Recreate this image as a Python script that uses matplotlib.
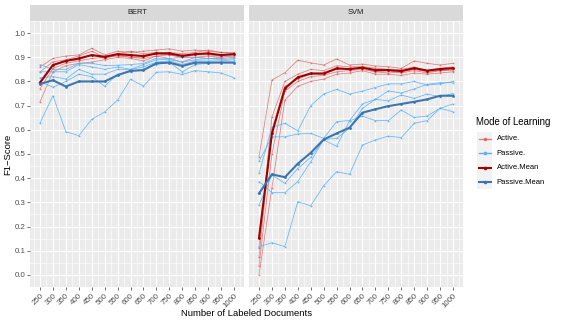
"""
F1-Score vs number of labeled documents, active vs passive learning,
faceted by classifier (BERT / SVM), ggplot-like styling.
"""

import matplotlib
matplotlib.use("Agg")
import matplotlib.pyplot as plt
from matplotlib.lines import Line2D
from matplotlib.patches import Rectangle
from matplotlib.ticker import MultipleLocator

plt.rcParams["font.family"] = ["Liberation Sans", "DejaVu Sans"]

# ---- data ----
DOCS = [250, 300, 350, 400, 450, 500, 550, 600, 650, 700, 750, 800, 850, 900, 950, 1000]
PANELS = ["BERT", "SVM"]
MODES = ["Active.", "Passive.", "Active.Mean", "Passive.Mean"]

BERT_ACTIVE_RUNS = [
    [0.86, 0.895, 0.905, 0.91, 0.937, 0.91, 0.925, 0.92, 0.925, 0.93, 0.935, 0.925, 0.93, 0.925, 0.92, 0.915],
    [0.84, 0.881, 0.89, 0.905, 0.925, 0.90, 0.915, 0.925, 0.915, 0.92, 0.92, 0.915, 0.92, 0.93, 0.92, 0.92],
    [0.79, 0.868, 0.885, 0.89, 0.91, 0.895, 0.91, 0.90, 0.90, 0.915, 0.91, 0.90, 0.91, 0.91, 0.905, 0.915],
    [0.77, 0.854, 0.875, 0.885, 0.895, 0.90, 0.905, 0.90, 0.895, 0.905, 0.91, 0.90, 0.90, 0.905, 0.90, 0.905],
    [0.716, 0.84, 0.865, 0.875, 0.88, 0.89, 0.90, 0.895, 0.885, 0.905, 0.895, 0.88, 0.90, 0.895, 0.895, 0.90],
]
BERT_PASSIVE_RUNS = [
    [0.87, 0.85, 0.85, 0.875, 0.875, 0.866, 0.867, 0.87, 0.874, 0.897, 0.895, 0.90, 0.90, 0.895, 0.90, 0.91],
    [0.84, 0.84, 0.84, 0.87, 0.86, 0.85, 0.86, 0.85, 0.87, 0.89, 0.89, 0.88, 0.89, 0.895, 0.89, 0.895],
    [0.815, 0.82, 0.81, 0.85, 0.83, 0.83, 0.85, 0.85, 0.86, 0.88, 0.885, 0.87, 0.885, 0.885, 0.885, 0.89],
    [0.80, 0.776, 0.80, 0.83, 0.82, 0.78, 0.83, 0.84, 0.85, 0.87, 0.88, 0.84, 0.87, 0.875, 0.88, 0.88],
    [0.628, 0.741, 0.592, 0.576, 0.643, 0.674, 0.723, 0.809, 0.781, 0.838, 0.84, 0.829, 0.845, 0.84, 0.835, 0.815],
]
BERT_ACTIVE_MEAN = [0.795, 0.868, 0.885, 0.895, 0.909, 0.902, 0.913, 0.909, 0.905, 0.916, 0.916, 0.906, 0.913, 0.916, 0.909, 0.913]
BERT_PASSIVE_MEAN = [0.79, 0.805, 0.779, 0.80, 0.80, 0.80, 0.826, 0.844, 0.847, 0.875, 0.878, 0.864, 0.878, 0.878, 0.878, 0.878]

SVM_ACTIVE_RUNS = [
    [0.489, 0.806, 0.836, 0.888, 0.877, 0.868, 0.893, 0.868, 0.872, 0.864, 0.861, 0.854, 0.885, 0.875, 0.868, 0.875],
    [0.110, 0.654, 0.80, 0.83, 0.85, 0.845, 0.865, 0.86, 0.862, 0.855, 0.85, 0.85, 0.86, 0.845, 0.855, 0.86],
    [0.072, 0.60, 0.78, 0.81, 0.83, 0.83, 0.85, 0.855, 0.855, 0.84, 0.845, 0.835, 0.845, 0.835, 0.845, 0.85],
    [0.037, 0.50, 0.76, 0.80, 0.82, 0.825, 0.84, 0.845, 0.85, 0.84, 0.835, 0.84, 0.85, 0.84, 0.845, 0.845],
    [0.0, 0.36, 0.723, 0.78, 0.80, 0.81, 0.83, 0.835, 0.845, 0.83, 0.83, 0.825, 0.835, 0.83, 0.835, 0.84],
]
SVM_PASSIVE_RUNS = [
    [0.42, 0.61, 0.627, 0.596, 0.70, 0.748, 0.767, 0.748, 0.76, 0.775, 0.79, 0.79, 0.80, 0.785, 0.79, 0.80],
    [0.47, 0.571, 0.571, 0.583, 0.585, 0.565, 0.634, 0.638, 0.707, 0.726, 0.761, 0.752, 0.769, 0.788, 0.795, 0.795],
    [0.386, 0.34, 0.34, 0.386, 0.468, 0.56, 0.565, 0.606, 0.689, 0.726, 0.72, 0.744, 0.73, 0.748, 0.737, 0.75],
    [0.289, 0.413, 0.379, 0.44, 0.486, 0.558, 0.532, 0.637, 0.657, 0.638, 0.638, 0.682, 0.651, 0.657, 0.689, 0.675],
    [0.117, 0.133, 0.117, 0.303, 0.286, 0.369, 0.427, 0.416, 0.537, 0.558, 0.574, 0.568, 0.627, 0.638, 0.689, 0.707],
]
SVM_ACTIVE_MEAN = [0.152, 0.585, 0.771, 0.817, 0.833, 0.833, 0.854, 0.851, 0.857, 0.847, 0.847, 0.843, 0.855, 0.845, 0.851, 0.855]
SVM_PASSIVE_MEAN = [0.337, 0.416, 0.404, 0.46, 0.505, 0.56, 0.585, 0.609, 0.671, 0.685, 0.698, 0.707, 0.716, 0.726, 0.741, 0.741]

# ---- styling ----
COLORS = {"Active.": "#d64545", "Passive.": "#56B1F7",
          "Active.Mean": "#a00000", "Passive.Mean": "#3b76ad"}
BG = "#EBEBEB"
TICK_FS = 5.7
STRIP_FS = 5.4
LEGEND_FS = 5.5
TITLE_FS = 6.8
W, H = 561, 324


def fx(px):
    return px / W


def fy(py):
    return 1 - py / H


def draw_panel(ax, active_runs, passive_runs, active_mean, passive_mean, show_y):
    ax.set_facecolor(BG)
    for run in active_runs:
        ax.plot(DOCS, run, color=COLORS["Active."], alpha=0.65, lw=0.55,
                marker="o", ms=1.3, mew=0, zorder=2)
    for run in passive_runs:
        ax.plot(DOCS, run, color=COLORS["Passive."], alpha=0.9, lw=0.55,
                marker="o", ms=1.3, mew=0, zorder=2)
    ax.plot(DOCS, active_mean, color=COLORS["Active.Mean"], lw=1.5,
            marker="o", ms=2.0, mew=0, zorder=3)
    ax.plot(DOCS, passive_mean, color=COLORS["Passive.Mean"], lw=1.5,
            marker="o", ms=2.0, mew=0, zorder=3)

    ax.set_xlim(212.5, 1037.5)
    ax.set_ylim(-0.05, 1.05)
    ax.xaxis.set_major_locator(MultipleLocator(50))
    ax.xaxis.set_minor_locator(MultipleLocator(50, offset=25))
    ax.yaxis.set_major_locator(MultipleLocator(0.1))
    ax.yaxis.set_minor_locator(MultipleLocator(0.1, offset=0.05))
    ax.grid(which="major", color="white", lw=0.85)
    ax.grid(which="minor", color="white", lw=0.4)
    ax.set_axisbelow(True)
    for s in ax.spines.values():
        s.set_visible(False)

    ax.set_xticks(DOCS)
    ax.set_xticklabels([str(d) for d in DOCS], rotation=45, ha="right",
                       va="top", rotation_mode="anchor")
    ax.tick_params(axis="both", which="major", length=2, width=0.5,
                   color="#333333", labelsize=TICK_FS, labelcolor="#4D4D4D", pad=1.5)
    ax.tick_params(which="minor", length=0)
    if show_y:
        ax.set_yticklabels([f"{v:.1f}" for v in ax.get_yticks()])
    else:
        ax.tick_params(axis="y", length=0, labelleft=False)


def main():
    fig = plt.figure(figsize=(W / 100, H / 100), dpi=100)

    panel_left = [30.3, 249.3]
    panel_w = 213.4
    top, bottom = 21, 287
    data = [
        (BERT_ACTIVE_RUNS, BERT_PASSIVE_RUNS, BERT_ACTIVE_MEAN, BERT_PASSIVE_MEAN),
        (SVM_ACTIVE_RUNS, SVM_PASSIVE_RUNS, SVM_ACTIVE_MEAN, SVM_PASSIVE_MEAN),
    ]
    for i, name in enumerate(PANELS):
        ax = fig.add_axes([fx(panel_left[i]), fy(bottom), panel_w / W, (bottom - top) / H])
        draw_panel(ax, *data[i], show_y=(i == 0))

        # facet strip
        sx = fig.add_axes([fx(panel_left[i]), fy(top), panel_w / W, 16.5 / H])
        sx.set_facecolor("#D9D9D9")
        sx.set_xticks([])
        sx.set_yticks([])
        for s in sx.spines.values():
            s.set_visible(False)
        sx.text(0.5, 0.5, name, ha="center", va="center", fontsize=STRIP_FS,
                color="#1A1A1A", transform=sx.transAxes)

    fig.text(fx(8), fy(154), "F1\u2212Score", rotation=90, ha="center",
             va="center", fontsize=TITLE_FS, color="black")
    fig.text(fx(246.5), fy(313), "Number of Labeled Documents", ha="center",
             va="center", fontsize=TITLE_FS, color="black")

    # legend (ggplot style keys)
    fig.text(fx(476.5), fy(122), "Mode of Learning", ha="left", va="center",
             fontsize=TITLE_FS + 0.1, color="black")
    key_h = 14.4
    key_top = 131.6
    for j, mode in enumerate(MODES):
        y0 = key_top + j * key_h
        yc = y0 + key_h / 2
        fig.add_artist(Rectangle((fx(477), fy(y0 + key_h)), 15 / W, key_h / H,
                                 transform=fig.transFigure, facecolor="#F2F2F2",
                                 edgecolor="none"))
        is_mean = mode.endswith("Mean")
        alpha = 0.65 if mode == "Active." else 1.0
        fig.add_artist(Line2D([fx(478.5), fx(490.5)], [fy(yc), fy(yc)],
                              transform=fig.transFigure, color=COLORS[mode],
                              lw=1.5 if is_mean else 1.0, alpha=alpha))
        fig.add_artist(Line2D([fx(484.5)], [fy(yc)], transform=fig.transFigure,
                              color=COLORS[mode], marker="o", ms=2.6, mew=0,
                              alpha=alpha))
        fig.text(fx(496.5), fy(yc), mode, ha="left", va="center",
                 fontsize=LEGEND_FS, color="black")

    fig.savefig("out.png", dpi=100)
    plt.close(fig)


if __name__ == "__main__":
    main()
